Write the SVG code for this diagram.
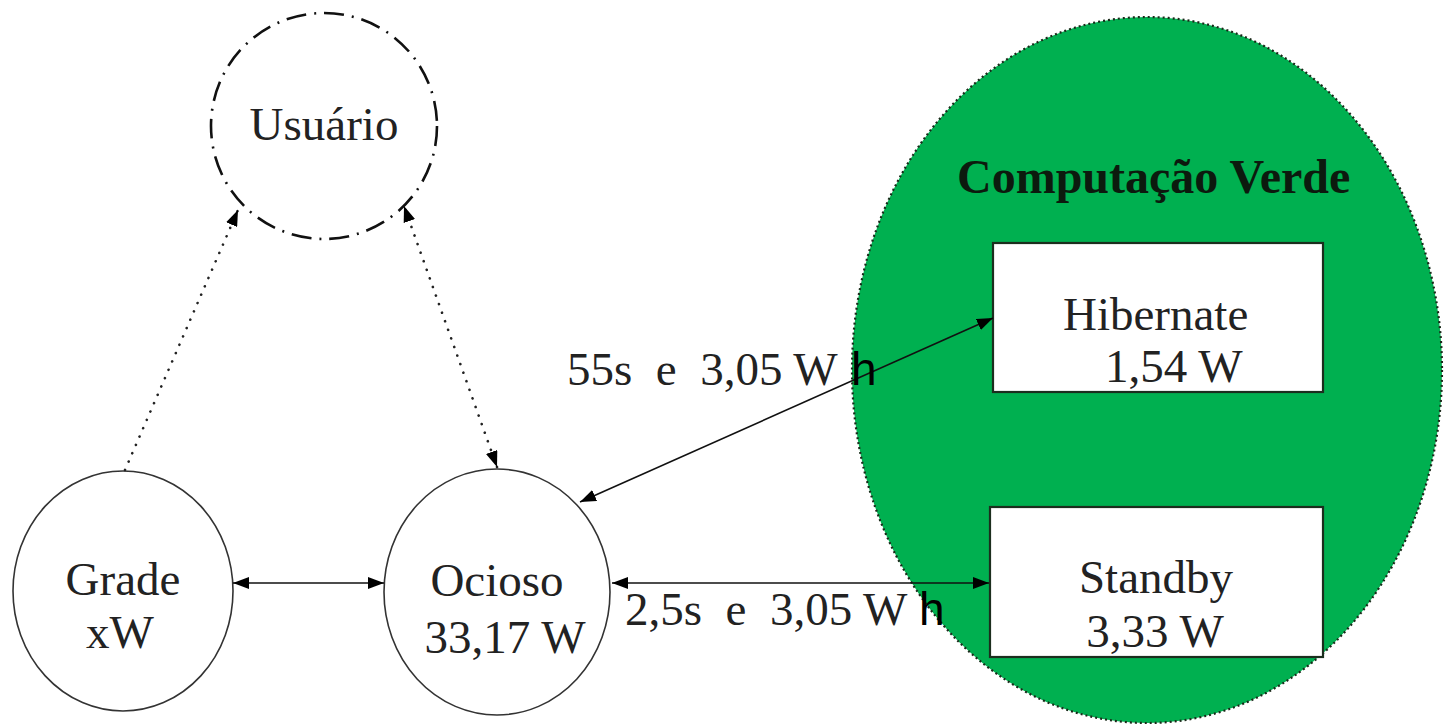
<svg xmlns="http://www.w3.org/2000/svg" width="1445" height="726" viewBox="0 0 1445 726">
  <style>
    .serif { font-family: "Liberation Serif", "Times New Roman", serif; font-size: 47px; fill: #222; }
    .title { font-family: "Liberation Serif", "Times New Roman", serif; font-size: 48px; font-weight: bold; fill: #0c1a0e; }
    .sans { font-family: "Liberation Sans", Arial, sans-serif; font-size: 46px; fill: #000; }
    .node { fill: #fff; stroke: #333; stroke-width: 1.6; }
    .box { fill: #fff; stroke: #1c2e1e; stroke-width: 2.2; }
    .conn { fill: none; stroke: #111; stroke-width: 1.6; }
    .dots { fill: none; stroke: #222; stroke-width: 2.6; stroke-linecap: round; stroke-dasharray: 0.1 9; }
  </style>
  <defs>
    <marker id="ah" viewBox="0 0 16 12" refX="16" refY="6" markerWidth="16" markerHeight="12" markerUnits="userSpaceOnUse" orient="auto-start-reverse">
      <path d="M0,0 L16,6 L0,12 z" fill="#000"/>
    </marker>
  </defs>
  <rect width="1445" height="726" fill="#fff"/>

  <g id="computacao-verde">
    <ellipse cx="1147" cy="370" rx="295" ry="353" fill="#00b050" stroke="#1a2a1a" stroke-width="2.2" stroke-dasharray="2 3"/>
    <text class="title" x="957" y="193">Computação Verde</text>
  </g>

  <g id="usuario">
    <circle cx="324" cy="126" r="113" fill="#fff" stroke="#111" stroke-width="2.6" stroke-dasharray="20 8 2 8"/>
    <text class="serif" x="324" y="140" text-anchor="middle">Usuário</text>
  </g>

  <g id="grade">
    <ellipse class="node" cx="123" cy="591" rx="110" ry="120"/>
    <text class="serif" x="123" y="595" text-anchor="middle">Grade</text>
    <text class="serif" x="120" y="648" text-anchor="middle">xW</text>
  </g>

  <g id="ocioso">
    <ellipse class="node" cx="497" cy="592" rx="113" ry="123"/>
    <text class="serif" x="497" y="596" text-anchor="middle">Ocioso</text>
    <text class="serif" x="505" y="653" text-anchor="middle">33,17 W</text>
  </g>

  <g id="hibernate">
    <rect class="box" x="993" y="243" width="330" height="149"/>
    <text class="serif" x="1063" y="330">Hibernate</text>
    <text class="serif" x="1105" y="382">1,54 W</text>
  </g>

  <g id="standby">
    <rect class="box" x="990" y="507" width="333" height="150"/>
    <text class="serif" x="1156" y="593" text-anchor="middle">Standby</text>
    <text class="serif" x="1155" y="647" text-anchor="middle">3,33 W</text>
  </g>

  <g id="connectors">
    <line class="conn" x1="233" y1="583" x2="384" y2="583" marker-start="url(#ah)" marker-end="url(#ah)"/>
    <line class="conn" x1="612" y1="583" x2="989" y2="583" marker-start="url(#ah)" marker-end="url(#ah)"/>
    <line class="conn" x1="580" y1="502" x2="993" y2="318" marker-start="url(#ah)" marker-end="url(#ah)"/>
    <line class="dots" x1="125" y1="470" x2="238" y2="210" marker-end="url(#ah)"/>
    <line class="dots" x1="497" y1="467" x2="404" y2="206" marker-start="url(#ah)" marker-end="url(#ah)"/>
  </g>

  <g id="labels">
    <text class="serif" x="567" y="385" xml:space="preserve">55s  e  3,05 W</text>
    <text class="sans" x="851" y="385">h</text>
    <text class="serif" x="625" y="625" xml:space="preserve">2,5s  e  3,05 W</text>
    <text class="sans" x="919" y="625">h</text>
  </g>
</svg>
